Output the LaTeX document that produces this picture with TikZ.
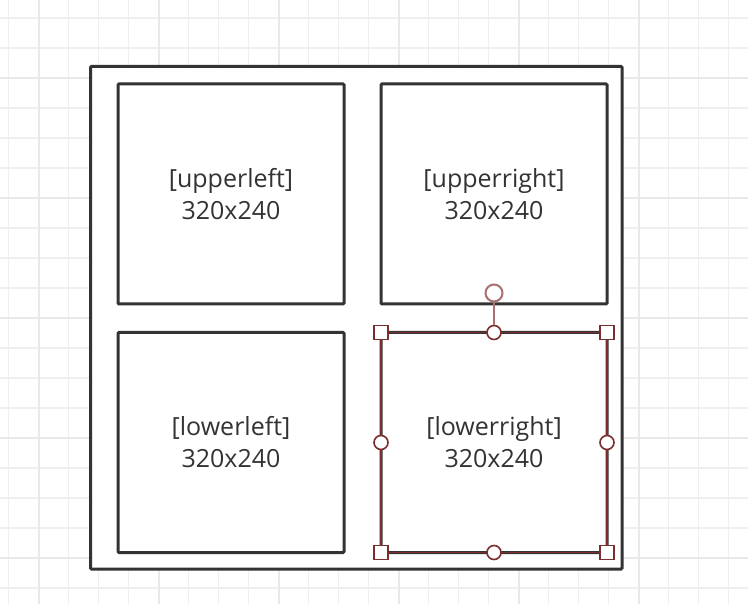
\documentclass[tikz,border=0pt]{standalone}
\usepackage{fontspec}
\setmainfont{Open Sans}
\usetikzlibrary{positioning}

\definecolor{inkgray}{RGB}{51,51,51}
\definecolor{gridminor}{RGB}{239,239,239}
\definecolor{gridmajor}{RGB}{233,233,233}
\definecolor{selred}{RGB}{122,46,46}
\definecolor{rotred}{RGB}{168,112,112}

\begin{document}
\begin{tikzpicture}[
    x=1pt, y=-1pt,
    frame/.style={
        rectangle,
        draw=inkgray,
        line width=3pt,
        rounded corners=1pt,
        fill=white
    },
    region/.style={
        rectangle,
        draw=inkgray,
        line width=3pt,
        rounded corners=1pt,
        fill=white,
        minimum width=226pt,
        minimum height=220pt,
        outer sep=0pt,
        align=center,
        text=inkgray,
        font=\fontsize{25}{32}\selectfont
    },
    sizehandle/.style={
        rectangle,
        draw=selred,
        line width=1.6pt,
        fill=white,
        minimum size=14pt,
        inner sep=0pt
    },
    midhandle/.style={
        circle,
        draw=selred,
        line width=1.6pt,
        fill=white,
        minimum size=14pt,
        inner sep=0pt
    },
    rothandle/.style={
        circle,
        draw=rotred,
        line width=2pt,
        fill=white,
        minimum size=17pt,
        inner sep=0pt
    }
]
\useasboundingbox (0,0) rectangle (748,604);

% Raster im Hintergrund
\foreach \gx in {8.5,38.5,...,730}
    \draw[gridminor, line width=1.5pt] (\gx,0) -- (\gx,604);
\foreach \gy in {18,48,...,600}
    \draw[gridminor, line width=1.5pt] (0,\gy) -- (748,\gy);
\foreach \gx in {38.5,158.5,...,700}
    \draw[gridmajor, line width=2pt] (\gx,0) -- (\gx,604);
\foreach \gy in {78,198,...,600}
    \draw[gridmajor, line width=2pt] (0,\gy) -- (748,\gy);

% Rahmen
\draw[frame] (90.5,66.5) rectangle (622,569);

% Vier Teilbereiche
\node[region, anchor=north west] (upperleft) at (118,84) {[upperleft]\\320x240};
\node[region, right=37pt of upperleft] (upperright) {[upperright]\\320x240};
\node[region, below=28.5pt of upperleft] (lowerleft) {[lowerleft]\\320x240};
\node[region, below=28.5pt of upperright] (lowerright) {[lowerright]\\320x240};

% Auswahl
\draw[selred, line width=1.5pt] (lowerright.north west) rectangle (lowerright.south east);
\node[rothandle] (rotate) at ([yshift=39.5pt]lowerright.north) {};
\node[midhandle] (topmid) at (lowerright.north) {};
\draw[rotred, line width=1.6pt] (rotate) -- (topmid);
\node[midhandle] (leftmid) at (lowerright.west) {};
\node[midhandle] (rightmid) at (lowerright.east) {};
\node[midhandle] (bottommid) at (lowerright.south) {};
\node[sizehandle] (cornernw) at (lowerright.north west) {};
\node[sizehandle] (cornerne) at (lowerright.north east) {};
\node[sizehandle] (cornersw) at (lowerright.south west) {};
\node[sizehandle] (cornerse) at (lowerright.south east) {};

\end{tikzpicture}
\end{document}
